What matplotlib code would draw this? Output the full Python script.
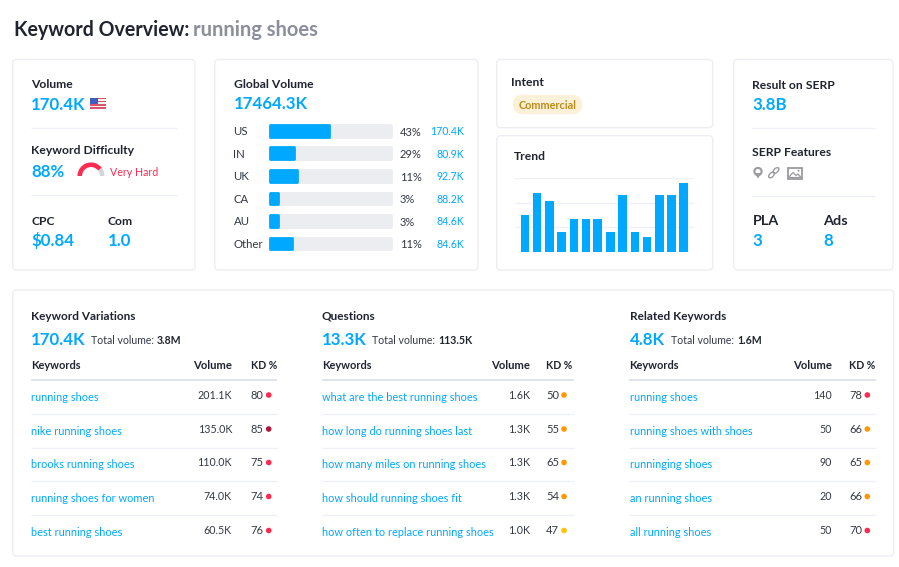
# Keyword overview dashboard

from matplotlib import pyplot as plt
from matplotlib.patches import FancyBboxPatch, Wedge, Rectangle, Circle, Polygon, Ellipse
import numpy as np

plt.rcParams['font.family'] = ['Lato', 'DejaVu Sans']

BLUE = '#00a8ff'
DARK = '#1f2430'
GREY = '#8b8e9b'
LINE = '#eef0f5'
BORDER = '#eceef3'

# global volume
countries = ['US', 'IN', 'UK', 'CA', 'AU', 'Other']
bar_fill = [48.4, 19.3, 21.8, 6, 6, 17.6]
country_pct = ['43%', '29%', '11%', '3%', '3%', '11%']
country_vol = ['170.4K', '80.9K', '92.7K', '88.2K', '84.6K', '84.6K']

# trend
trend = [50, 79.5, 69, 27, 44, 44, 44, 27, 77, 27, 19.5, 77, 77, 94]
trend_pos = [0, 1, 2, 3, 4, 5, 5.93, 7, 8, 9, 10, 11, 12, 13]

# tables
var_kw = ['running shoes', 'nike running shoes', 'brooks running shoes',
          'running shoes for women', 'best running shoes']
var_vol = ['201.1K', '135.0K', '110.0K', '74.0K', '60.5K']
var_kd = [80, 85, 75, 74, 76]

q_kw = ['what are the best running shoes', 'how long do running shoes last',
        'how many miles on running shoes', 'how should running shoes fit',
        'how often to replace running shoes']
q_vol = ['1.6K', '1.3K', '1.3K', '1.3K', '1.0K']
q_kd = [50, 55, 65, 54, 47]

rel_kw = ['running shoes', 'running shoes with shoes', 'runninging shoes',
          'an running shoes', 'all running shoes']
rel_vol = ['140', '50', '90', '20', '50']
rel_kd = [78, 66, 65, 66, 70]

W, H = 899, 567
fig = plt.figure(figsize=(W / 100, H / 100), dpi=100, facecolor='white')
ax = fig.add_axes([0, 0, 1, 1])
ax.set_xlim(0, W)
ax.set_ylim(H, 0)
ax.axis('off')


def card(x0, y0, x1, y1):
    ax.add_patch(FancyBboxPatch((x0 + 3, y0 + 3), x1 - x0 - 6, y1 - y0 - 6,
                                boxstyle='round,pad=3,rounding_size=4',
                                fc='white', ec=BORDER, lw=1))


def hline(x0, x1, y, color=LINE, lw=1):
    ax.plot([x0, x1], [y, y], color=color, lw=lw, solid_capstyle='butt')


def label(x, y, s, size=8.7, color=DARK, weight=700, ha='left'):
    ax.text(x, y + 0.7, s, fontsize=size, color=color, fontweight=weight, ha=ha, va='center')


def big(x, y, s, size=12.2):
    ax.text(x, y + 0.7, s, fontsize=size, color=BLUE, fontweight=700, ha='left', va='center')


def inset(x0, y0, x1, y1):
    a = fig.add_axes([x0 / W, 1 - y1 / H, (x1 - x0) / W, (y1 - y0) / H])
    a.axis('off')
    return a


ax.text(13.5, 29.5, 'Keyword Overview:', fontsize=14.1, color=DARK, fontweight=700, va='center')
ax.text(193, 29.5, 'running shoes', fontsize=14.5, color=GREY, fontweight=700, va='center')

card(12.7, 59.5, 195, 270)
card(214.7, 59.5, 478, 270)
card(496.7, 59.5, 712.7, 127.7)
card(496.7, 135.7, 712.7, 270)
card(733.7, 59.5, 893, 270)
card(12.7, 290, 893.7, 556)

# volume card
label(31, 84, 'Volume')
big(31, 104, '170.4K')
ax.add_patch(Rectangle((89.5, 97.5), 16, 11.5, fc='#f3f3f6', ec='none'))
for yy in [97.5, 100.8, 104.1, 107.4]:
    ax.add_patch(Rectangle((89.5, yy), 16, 1.6, fc='#d9546a', ec='none'))
ax.add_patch(Rectangle((89.5, 97.5), 8, 6.2, fc='#3f5fc0', ec='none'))
hline(31, 177, 127.5)
label(31, 150, 'Keyword Difficulty')
big(31, 171, '88%')
# y axis runs downward here, so the upper half is 180..360
ax.add_patch(Wedge((91, 176), 13.5, 180, 360, width=4.5, fc='#d3d5dc', ec='none'))
ax.add_patch(Wedge((91, 176), 13.5, 180, 322, width=4.5, fc='#ff2a50', ec='none'))
label(110, 172, 'Very Hard', size=7.7, color='#ff2a50', weight=400)
hline(31, 177, 194.5)
label(31, 221, 'CPC')
label(108, 221, 'Com')
big(31, 240, '$0.84')
big(108, 240, '1.0')

# global volume card
label(233.5, 83.5, 'Global Volume')
big(233.5, 103, '17464.3K')
bar_y = [131, 153.3, 176, 198.5, 221, 243.5]
bars = inset(270.4, 122, 390.6, 253)
bars.set_xlim(0, 100)
bars.set_ylim(131, 0)
for yb, fill in zip(bar_y, bar_fill):
    bars.barh(yb - 122, 100, height=11.7, color='#ecedf1', edgecolor='#ecedf1', lw=2,
              joinstyle='round', clip_on=False)
    bars.barh(yb - 122, fill, height=11.7, color=BLUE, edgecolor=BLUE, lw=2,
              joinstyle='round', clip_on=False)
for yb, c, p, v in zip(bar_y, countries, country_pct, country_vol):
    label(233.5, yb, c, size=8.2, color='#333844', weight=400)
    label(400, yb + 0.5, p, size=8, color='#333844', weight=400)
    label(464, yb, v, size=7.6, color=BLUE, weight=400, ha='right')

# intent
label(510.5, 82, 'Intent')
ax.add_patch(FancyBboxPatch((517, 99), 61, 11, boxstyle='round,pad=0,rounding_size=5.5',
                            fc='#fbf1d9', ec='#fbf1d9', lw=6))
ax.text(547.5, 105.3, 'Commercial', fontsize=7.8, color='#bd8a17', fontweight=700, ha='center', va='center')

# trend card
label(513.5, 156, 'Trend')
tr = inset(515, 178.3, 694, 251.7)
tr.axis('on')
tr.set_xlim(-0.82, 13.84)
tr.set_ylim(0, 100)
tr.bar(trend_pos, trend, width=0.7, color=BLUE, zorder=3)
tr.set_yticks([0, 33.3, 66.6, 100])
tr.grid(axis='y', color=LINE, lw=1)
tr.set_axisbelow(True)
tr.tick_params(length=0, labelbottom=False, labelleft=False)
tr.set_xticks([])
for s in tr.spines.values():
    s.set_visible(False)

# serp card
label(752.5, 84.5, 'Result on SERP')
big(752.5, 104, '3.8B')
hline(752, 875, 127.5)
label(752, 151.5, 'SERP Features')
ICON = '#9a9a9f'
ax.add_patch(Circle((758, 171.5), 3.6, fc='none', ec=ICON, lw=1.5))
ax.add_patch(Polygon([[754.6, 173], [761.4, 173], [758, 178.5]], fc=ICON, ec='none'))
ax.add_patch(Ellipse((771.5, 175), 7, 4, angle=-45, fc='none', ec=ICON, lw=1))
ax.add_patch(Ellipse((776, 170.5), 7, 4, angle=-45, fc='none', ec=ICON, lw=1))
ax.add_patch(Rectangle((787.5, 168), 14.5, 10.5, fc='white', ec=ICON, lw=1.3))
ax.add_patch(Polygon([[788.5, 177.5], [793, 172.5], [796, 175.5], [798, 174], [801, 177.5]],
                     fc='white', ec=ICON, lw=0.9))
ax.add_patch(Circle((798.5, 170.7), 1, fc=ICON, ec='none'))
hline(752, 875, 195.5)
label(752.5, 220, 'PLA', size=10.4)
label(823, 220, 'Ads', size=10.4)
big(752.5, 240, '3')
big(823, 240, '8')


def kd_color(kd):
    if kd >= 85:
        return '#b0173f'
    if kd >= 70:
        return '#ff2a50'
    if kd >= 50:
        return '#ff9800'
    return '#ffc400'


def table(x0, x1, x_vol, x_kd, x_total, title, count, total, kws, vols, kds):
    label(x0, 315.5, title, size=8.5)
    big(x0, 339.5, count)
    t = ax.text(x_total, 340.5, 'Total volume: ', fontsize=7.6, color='#333844', va='center')
    ax.annotate(total, xy=(1, 0.5), xycoords=t, va='center', fontsize=7.6, color=DARK, fontweight=700)
    label(x0, 365, 'Keywords', size=7.9)
    label(x_vol, 365, 'Volume', size=8.1, ha='right')
    label(x_kd, 365, 'KD %', size=7.6)
    hline(x0 - 0.5, x1, 379.5, color='#dcdee8', lw=1.2)
    row_y = [396.5, 430.5, 464, 498, 532]
    for k, (yr, kw, vol, kd) in enumerate(zip(row_y, kws, vols, kds)):
        label(x0, yr, kw, size=7.9, color=BLUE, weight=400)
        label(x_vol, yr - 2, vol, size=7.7, color='#333844', weight=400, ha='right')
        label(x_kd, yr - 2, str(kd), size=8, color='#333844', weight=400)
        ax.add_patch(Circle((x_kd + 18, yr - 1.5), 2.8, fc=kd_color(kd), ec='none'))
        if k < 4:
            hline(x0 - 0.5, x1, yr + 17, color=LINE)


table(31, 277, 232, 250.7, 91, 'Keyword Variations', '170.4K', '3.8M', var_kw, var_vol, var_kd)
table(322, 573.7, 530, 546, 372.3, 'Questions', '13.3K', '113.5K', q_kw, q_vol, q_kd)
table(629.5, 875.5, 831.7, 849.3, 671.3, 'Related Keywords', '4.8K', '1.6M', rel_kw, rel_vol, rel_kd)

fig.savefig('out.png', dpi=100)
